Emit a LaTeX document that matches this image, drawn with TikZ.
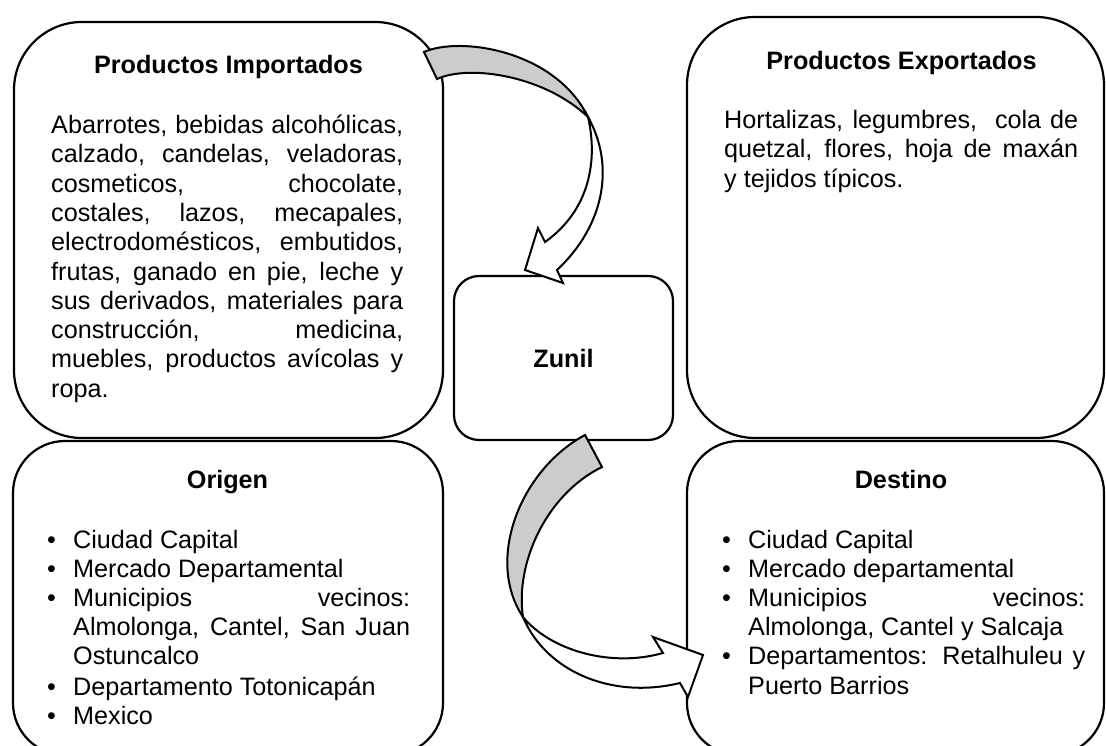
\documentclass[tikz,border=0pt]{standalone}
\usepackage{fontspec}
\setmainfont{Liberation Sans}
\newcommand\bulletbox{\makebox[26pt][l]{\textbullet}}
\begin{document}
\begin{tikzpicture}[x=1pt,y=-1pt,
  bigbox/.style={draw, line width=2.2pt, rounded corners=68pt, inner sep=0pt},
  lowbox/.style={draw, line width=2.2pt, rounded corners=52pt, inner sep=0pt},
  zbox/.style={draw, line width=2.2pt, rounded corners=25pt, inner sep=0pt,
    font=\fontsize{25.2pt}{30pt}\selectfont\bfseries},
  ttl/.style={anchor=base, inner sep=0pt, font=\fontsize{25.2pt}{30pt}\selectfont\bfseries},
  body/.style={anchor=north west, inner sep=0pt, align=left,
    font=\fontsize{25.2pt}{29.3pt}\selectfont},
  listtxt/.style={anchor=north west, inner sep=0pt, align=left,
    font=\fontsize{25.2pt}{29pt}\selectfont},
  arrowline/.style={draw=black, line width=2pt, line join=miter}]
\useasboundingbox (0,0) rectangle (1106,746);
\clip (0,0) rectangle (1106,746);
\fill[white] (0,0) rectangle (1106,746);

% boxes
\node[bigbox, minimum width=429pt, minimum height=416pt] (imp) at (228.5,230) {};
\node[bigbox, minimum width=417pt, minimum height=421pt] (exp) at (895.5,227.5) {};
\node[lowbox, minimum width=430pt, minimum height=314pt] (ori) at (228,598) {};
\node[lowbox, minimum width=417pt, minimum height=314pt] (des) at (895.5,598) {};
\node[zbox, minimum width=219pt, minimum height=164pt] (zun) at (563.5,358) {Zunil};

% titles
\node[ttl] (imptitle) at (228.5,74) {Productos Importados};
\node[ttl] (exptitle) at (901.5,70) {Productos Exportados};
\node[ttl] (orititle) at (227.5,488) {Origen};
\node[ttl] (destitle) at (901,488) {Destino};

% texts
\node[body] (impbody) at (51,109.3) {\rule{0pt}{24pt}\makebox[352pt][s]{Abarrotes, bebidas alcohólicas,}\\
\makebox[352pt][s]{calzado, candelas, veladoras,}\\
\makebox[352pt][s]{cosmeticos, chocolate,}\\
\makebox[352pt][s]{costales, lazos, mecapales,}\\
\makebox[352pt][s]{electrodomésticos, embutidos,}\\
\makebox[352pt][s]{frutas, ganado en pie, leche y}\\
\makebox[352pt][s]{sus derivados, materiales para}\\
\makebox[352pt][s]{construcción, medicina,}\\
\makebox[352pt][s]{muebles, productos avícolas y}\\
ropa.};

\node[body] (expbody) at (724,104.3) {\rule{0pt}{24pt}\makebox[354pt][s]{Hortalizas, legumbres,\ \ cola de}\\
\makebox[354pt][s]{quetzal, flores, hoja de maxán}\\
y tejidos típicos.};

\node[listtxt] (orilist) at (47,524) {\rule{0pt}{24pt}\bulletbox Ciudad Capital\\
\bulletbox Mercado Departamental\\
\bulletbox\makebox[337pt][s]{Municipios vecinos:}\\
\hspace*{26pt}\makebox[337pt][s]{Almolonga, Cantel, San Juan}\\
\hspace*{26pt}Ostuncalco\\[2pt]
\bulletbox Departamento Totonicapán\\
\bulletbox Mexico};

\node[listtxt] (deslist) at (722,524) {\rule{0pt}{24pt}\bulletbox Ciudad Capital\\
\bulletbox Mercado departamental\\
\bulletbox\makebox[337pt][s]{Municipios vecinos:}\\
\hspace*{26pt}Almolonga, Cantel y Salcaja\\
\bulletbox\makebox[337pt][s]{Departamentos: Retalhuleu y}\\[1pt]
\hspace*{26pt}Puerto Barrios};

% top curved arrow (Productos Importados -> Zunil)
\draw[arrowline, fill=gray!40] (424,52) .. controls (460,36) and (555,50) .. (588,117)
  .. controls (545,76) and (470,64) .. (437,79) -- cycle;
\draw[arrowline, fill=white] (588,117) .. controls (615,165) and (605,225) .. (557,270)
  -- (563,283) -- (525,270) -- (538,228) -- (545,242)
  .. controls (590,210) and (598,160) .. (588,117) -- cycle;

% bottom curved arrow (Zunil -> Destino)
\draw[arrowline, fill=gray!40] (585,435) .. controls (520,470) and (485,560) .. (523,617)
  .. controls (515,565) and (545,495) .. (602,467) -- cycle;
\draw[arrowline, fill=white] (523,617) .. controls (545,670) and (610,700) .. (680,683)
  -- (688,697) -- (703,655) -- (653,637) -- (663,653)
  .. controls (610,668) and (550,650) .. (523,617) -- cycle;
\end{tikzpicture}
\end{document}
